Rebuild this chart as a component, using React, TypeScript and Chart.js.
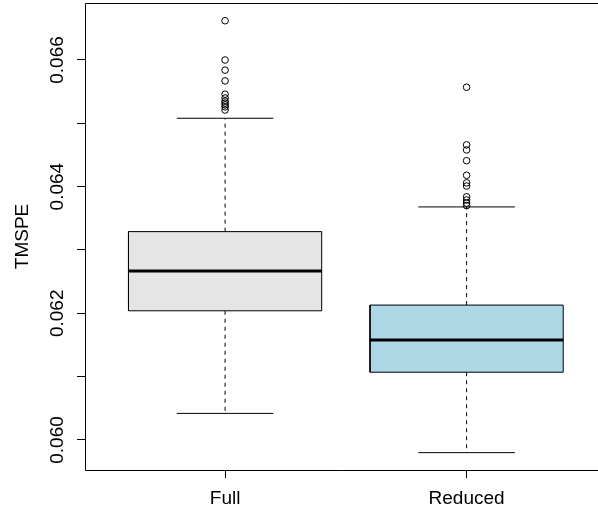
import React, { useEffect, useRef } from "react";
import { Chart, registerables } from "chart.js";

Chart.register(...registerables);

// ---- data ----
const categories = ["Full", "Reduced"];
const lowerWhisker = [0.06042, 0.0598];
const q1 = [0.06204, 0.06107];
const medians = [0.06267, 0.06158];
const q3 = [0.06329, 0.06213];
const upperWhisker = [0.06508, 0.06368];
const outliersFull = [
  0.06662, 0.066, 0.06584, 0.06567, 0.06546, 0.0654, 0.06535, 0.06532,
  0.06529, 0.06526, 0.06521,
];
const outliersReduced = [
  0.06557, 0.06466, 0.06458, 0.06441, 0.06418, 0.06406, 0.06401, 0.06384,
  0.06379, 0.06374, 0.0637,
];
const yTickValues = [0.06, 0.061, 0.062, 0.063, 0.064, 0.065, 0.066];
const yTickLabels = ["0.060", "", "0.062", "", "0.064", "", "0.066"];
const yTitle = "TMSPE";

const FONT = "'Liberation Sans', Arial, Helvetica, sans-serif";
const boxFill = ["#E5E5E5", "#ADD8E6"];
const BOX_HALF = 0.4;
const CAP_HALF = 0.2;

export default function App() {
  const ref = useRef<HTMLCanvasElement | null>(null);

  useEffect(() => {
    document.body.style.margin = "0";
    const canvas = ref.current;
    if (!canvas) return;

    const medianSets = categories.map((_, i) => ({
      type: "line" as const,
      data: [
        { x: i + 1 - BOX_HALF, y: medians[i] },
        { x: i + 1 + BOX_HALF, y: medians[i] },
      ],
      borderColor: "#000",
      borderWidth: 3,
      pointRadius: 0,
      fill: false,
      borderCapStyle: "butt" as const,
    }));

    const boxSets = categories.map((_, i) => ({
      type: "line" as const,
      data: [
        { x: i + 1 - BOX_HALF, y: q1[i] },
        { x: i + 1 + BOX_HALF, y: q1[i] },
        { x: i + 1 + BOX_HALF, y: q3[i] },
        { x: i + 1 - BOX_HALF, y: q3[i] },
        { x: i + 1 - BOX_HALF, y: q1[i] },
      ],
      borderColor: "#000",
      borderWidth: 1,
      backgroundColor: boxFill[i],
      pointRadius: 0,
      fill: "shape",
      tension: 0,
    }));

    const capSets: any[] = [];
    categories.forEach((_, i) => {
      [lowerWhisker[i], upperWhisker[i]].forEach((v) => {
        capSets.push({
          type: "line",
          data: [
            { x: i + 1 - CAP_HALF, y: v },
            { x: i + 1 + CAP_HALF, y: v },
          ],
          borderColor: "#000",
          borderWidth: 1,
          pointRadius: 0,
          fill: false,
        });
      });
    });

    const whiskerSets: any[] = [];
    categories.forEach((_, i) => {
      [
        [q3[i], upperWhisker[i]],
        [q1[i], lowerWhisker[i]],
      ].forEach(([a, b]) => {
        whiskerSets.push({
          type: "line",
          data: [
            { x: i + 1, y: a },
            { x: i + 1, y: b },
          ],
          borderColor: "#000",
          borderWidth: 1,
          borderDash: [4, 4],
          pointRadius: 0,
          fill: false,
        });
      });
    });

    const outlierSet = {
      type: "scatter" as const,
      data: [
        ...outliersFull.map((y) => ({ x: 1, y })),
        ...outliersReduced.map((y) => ({ x: 2, y })),
      ],
      pointRadius: 3.3,
      pointBorderWidth: 1,
      pointBorderColor: "#000",
      pointBackgroundColor: "rgba(0,0,0,0)",
      borderColor: "#000",
      backgroundColor: "rgba(0,0,0,0)",
    };

    const framePlugin = {
      id: "rframe",
      afterDraw(chart: any) {
        const { ctx, chartArea } = chart;
        const ys = chart.scales.y;
        ctx.save();
        ctx.strokeStyle = "#000";
        ctx.lineWidth = 1;
        ctx.beginPath();
        ctx.rect(
          Math.round(chartArea.left) + 0.5,
          Math.round(chartArea.top) + 0.5,
          Math.round(chartArea.right - chartArea.left) + 4,
          Math.round(chartArea.bottom - chartArea.top)
        );
        ctx.stroke();
        ctx.fillStyle = "#000";
        ctx.font = `19px ${FONT}`;
        ctx.textAlign = "center";
        ctx.textBaseline = "alphabetic";
        yTickValues.forEach((v, i) => {
          const label = yTickLabels[i];
          if (!label) return;
          const py = ys.getPixelForValue(v);
          ctx.save();
          ctx.translate(chartArea.left - 22, py);
          ctx.rotate(-Math.PI / 2);
          ctx.fillText(label, 0, 0);
          ctx.restore();
        });
        ctx.save();
        ctx.translate(chartArea.left - 57, (chartArea.top + chartArea.bottom) / 2);
        ctx.rotate(-Math.PI / 2);
        ctx.fillText(yTitle, 0, 0);
        ctx.restore();
        ctx.restore();
      },
    };

    const chart = new Chart(canvas, {
      type: "scatter",
      data: {
        datasets: [...medianSets, ...boxSets, ...capSets, ...whiskerSets, outlierSet] as any,
      },
      options: {
        animation: false,
        responsive: false,
        events: [],
        layout: { autoPadding: false, padding: { top: 3, left: 0, right: 0, bottom: 0 } },
        plugins: {
          legend: { display: false },
          tooltip: { enabled: false },
          filler: { propagate: false },
        },
        scales: {
          x: {
            type: "linear",
            min: 0.42,
            max: 2.544,
            afterBuildTicks: (scale: any) => {
              scale.ticks = categories.map((_, i) => ({ value: i + 1 }));
            },
            afterFit: (scale: any) => {
              scale.height = 44;
              scale.paddingLeft = 0;
              scale.paddingRight = 0;
            },
            border: { display: false },
            grid: {
              drawOnChartArea: false,
              drawTicks: true,
              tickLength: 8,
              color: "#000",
            },
            ticks: {
              autoSkip: false,
              maxRotation: 0,
              minRotation: 0,
              padding: 9,
              color: "#000",
              font: { size: 19, family: FONT },
              callback: (v: any) => categories[Math.round(Number(v)) - 1] ?? "",
            },
          },
          y: {
            type: "linear",
            min: 0.059526,
            max: 0.0669,
            afterBuildTicks: (scale: any) => {
              scale.ticks = yTickValues.map((v) => ({ value: v }));
            },
            afterFit: (scale: any) => {
              scale.width = 85;
            },
            border: { display: false },
            grid: {
              drawOnChartArea: false,
              drawTicks: true,
              tickLength: 8,
              color: "#000",
            },
            ticks: { display: false },
          },
        },
      },
      plugins: [framePlugin],
    });

    return () => chart.destroy();
  }, []);

  return (
    <div style={{ width: 598, height: 514 }}>
      <canvas ref={ref} width={598} height={514} style={{ display: "block" }} />
    </div>
  );
}
